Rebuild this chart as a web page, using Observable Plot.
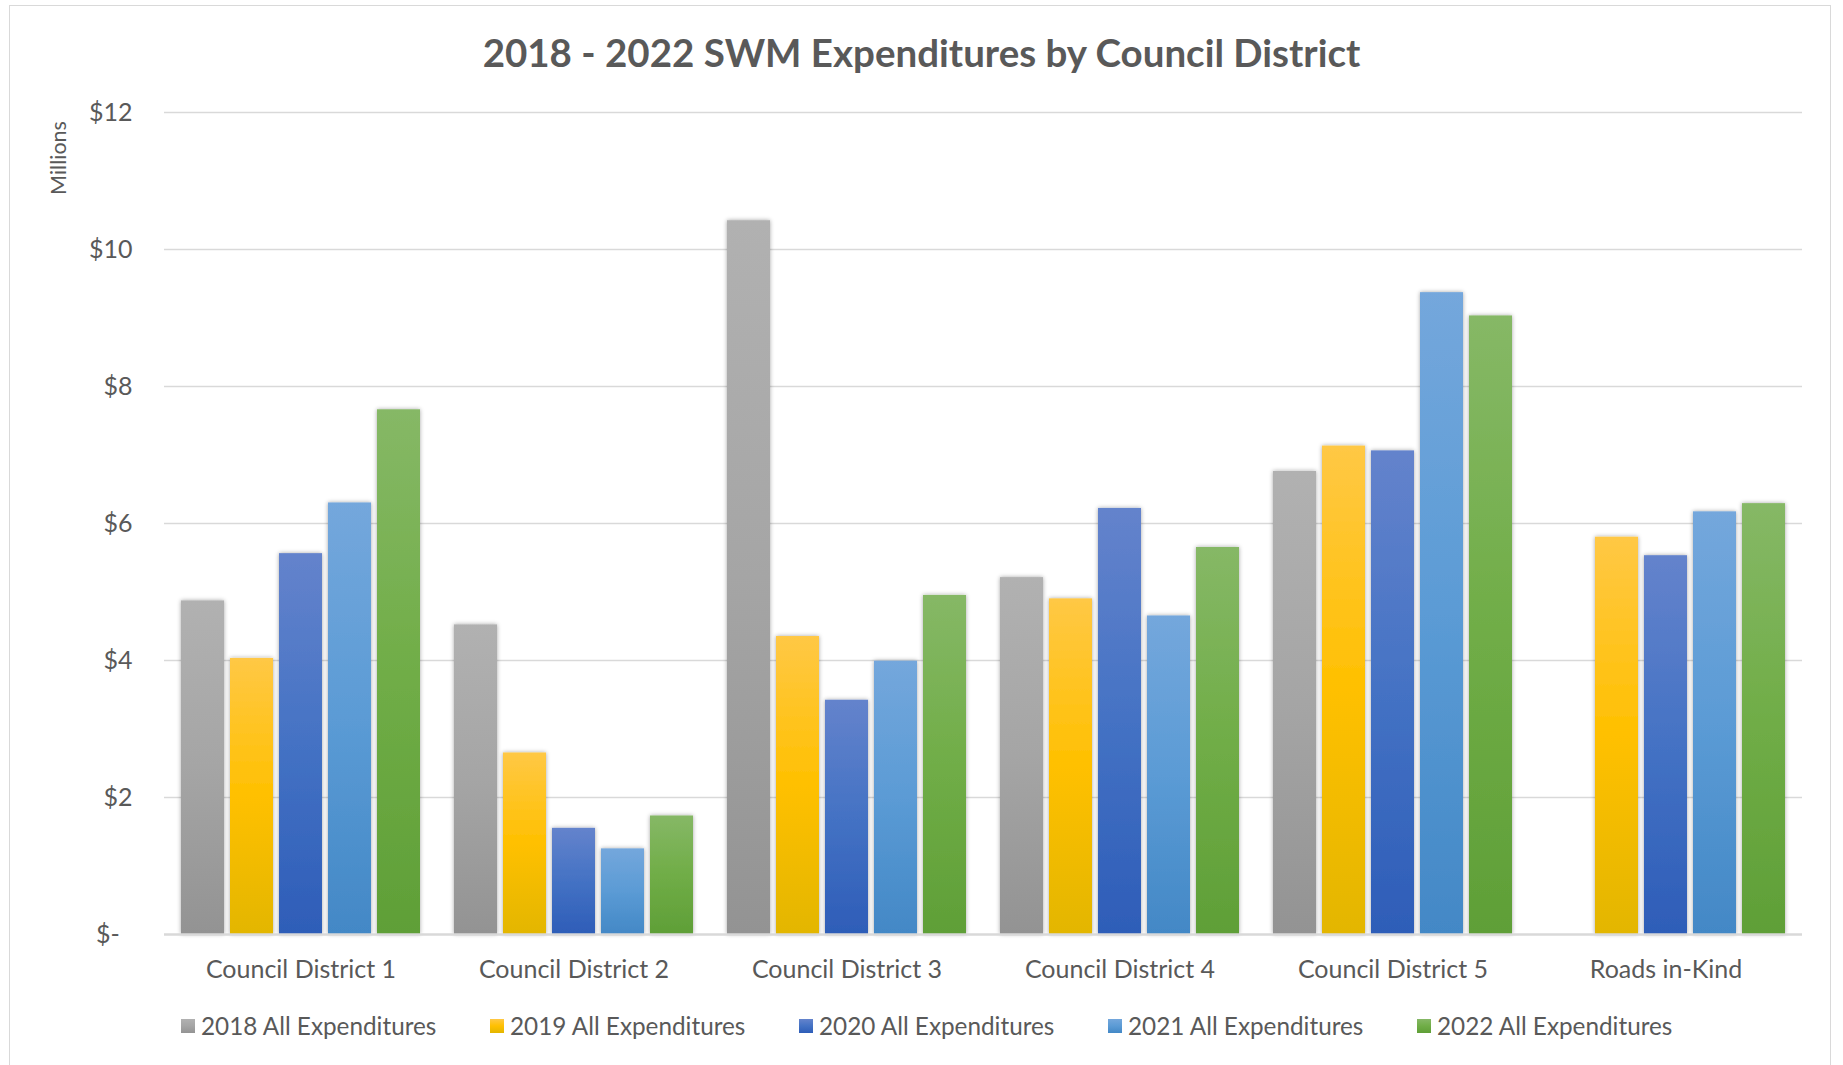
<!DOCTYPE html>
<html>
<head>
<meta charset="utf-8">
<script src="https://cdn.jsdelivr.net/npm/d3@7"></script>
<script src="https://cdn.jsdelivr.net/npm/@observablehq/plot@0.6"></script>
<style>
  html, body { margin: 0; padding: 0; background: #fff; overflow: hidden; }
  body { width: 1843px; height: 1065px; position: relative; font-family: Lato, "Open Sans", sans-serif; color: #595959; }
  #frame { position: absolute; left: 9px; top: 5px; width: 1822px; height: 1100px; border: 1.5px solid #d9d9d9; box-sizing: border-box; }
  #title { position: absolute; left: 0; width: 1843px; top: 29px; text-align: center; font-weight: 700; font-size: 38.5px; line-height: 46px; color: #595959; }
  #ylabel { position: absolute; left: 58px; top: 158px; transform: translate(-50%, -50%) rotate(-90deg); font-size: 21.5px; color: #595959; white-space: nowrap; }
  #chart { position: absolute; left: 0; top: 0; }
  #legend { position: absolute; top: 1011px; left: 181px; display: flex; font-size: 24.3px; color: #595959; }
  .item { display: flex; align-items: center; gap: 6px; white-space: nowrap; width: 309px; }
  .sw { width: 14px; height: 14px; display: inline-block; flex: none; }
</style>
</head>
<body>
<div id="frame"></div>
<div id="chart"></div>
<div id="title"></div>
<div id="ylabel"></div>
<div id="legend"></div>
<script>
const titleText = "2018 - 2022 SWM Expenditures by Council District";
const yLabel = "Millions";
const categories = ["Council District 1", "Council District 2", "Council District 3", "Council District 4", "Council District 5", "Roads in-Kind"];
const series = ["2018 All Expenditures", "2019 All Expenditures", "2020 All Expenditures", "2021 All Expenditures", "2022 All Expenditures"];
const v2018 = [4.87, 4.52, 10.42, 5.21, 6.76, null];
const v2019 = [4.03, 2.65, 4.35, 4.90, 7.13, 5.80];
const v2020 = [5.56, 1.55, 3.42, 6.22, 7.06, 5.53];
const v2021 = [6.30, 1.25, 3.99, 4.65, 9.37, 6.17];
const v2022 = [7.66, 1.73, 4.95, 5.65, 9.03, 6.29];
const yTicks = [0, 2, 4, 6, 8, 10, 12];

const seriesValues = [v2018, v2019, v2020, v2021, v2022];
// gradient stops (top, middle, bottom) per series
const gradients = [
  ["#b1b1b1", "#a5a5a5", "#939393"],
  ["#ffc845", "#ffc000", "#e3b600"],
  ["#6483cc", "#4472c4", "#2e5db8"],
  ["#74a7dc", "#5b9bd5", "#4388c6"],
  ["#86b866", "#70ad47", "#5f9f37"]
];
const gradId = i => `grad${i}`;

const data = [];
categories.forEach((c, i) => {
  series.forEach((s, j) => {
    const v = seriesValues[j][i];
    if (v != null) data.push({category: c, series: s, value: v, fill: `url(#${gradId(j)})`});
  });
});

const chart = Plot.plot({
  width: 1843,
  height: 1000,
  marginLeft: 161,
  marginRight: 39,
  marginTop: 112,
  marginBottom: 66,
  style: {fontFamily: "Lato, 'Open Sans', sans-serif", fontSize: "25px", color: "#595959", background: "transparent", overflow: "visible"},
  fx: {domain: categories, padding: 0, axis: "bottom", label: null, tickSize: 0, tickPadding: 26},
  x: {domain: series, axis: null, paddingInner: 0.13, paddingOuter: 0.34},
  y: {domain: [0, 12], ticks: yTicks, label: null, tickSize: 0, tickPadding: 32,
      tickFormat: d => d === 0 ? "$-\u00A0\u00A0" : "$" + d},
  color: {type: "identity"},
  marks: [
    Plot.ruleY(yTicks.filter(d => d > 0), {stroke: "#d9d9d9", strokeWidth: 1.6}),
    Plot.barY(data, {fx: "category", x: "series", y: "value", fill: "fill"}),
    Plot.ruleY([0], {stroke: "#d9d9d9", strokeWidth: 2.5})
  ]
});

// gradient and shadow definitions
const svg = d3.select(chart.tagName.toLowerCase() === "svg" ? chart : chart.querySelector("svg"));
const defs = svg.insert("defs", ":first-child");
gradients.forEach((g, i) => {
  const lg = defs.append("linearGradient").attr("id", gradId(i)).attr("x1", 0).attr("y1", 0).attr("x2", 0).attr("y2", 1);
  lg.append("stop").attr("offset", "0%").attr("stop-color", g[0]);
  lg.append("stop").attr("offset", "50%").attr("stop-color", g[1]);
  lg.append("stop").attr("offset", "100%").attr("stop-color", g[2]);
});
const f = defs.append("filter").attr("id", "shadow").attr("x", "-30%").attr("y", "-10%").attr("width", "160%").attr("height", "120%");
f.append("feDropShadow").attr("dx", 0).attr("dy", 0).attr("stdDeviation", 2.2).attr("flood-color", "#000").attr("flood-opacity", 0.35);
svg.selectAll('g[aria-label="bar"] rect').attr("filter", "url(#shadow)");

document.getElementById("chart").appendChild(chart);
document.getElementById("title").textContent = titleText;
document.getElementById("ylabel").textContent = yLabel;

const legend = document.getElementById("legend");
series.forEach((s, i) => {
  const item = document.createElement("div");
  item.className = "item";
  const sw = document.createElement("span");
  sw.className = "sw";
  sw.style.background = `linear-gradient(${gradients[i][0]}, ${gradients[i][1]}, ${gradients[i][2]})`;
  const t = document.createElement("span");
  t.textContent = s;
  item.appendChild(sw);
  item.appendChild(t);
  legend.appendChild(item);
});
</script>
</body>
</html>
